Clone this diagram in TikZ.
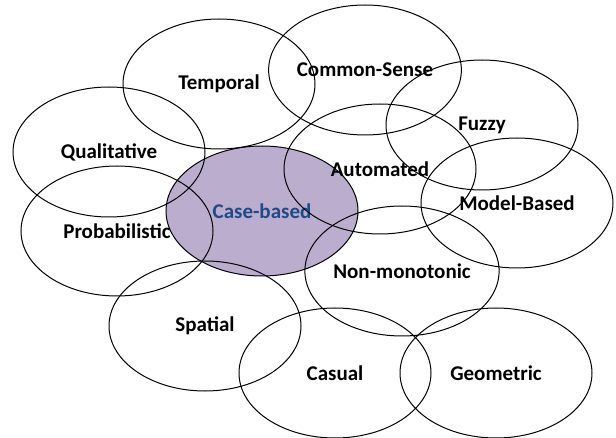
\documentclass[tikz,border=0pt]{standalone}
\usepackage{fontspec}
\setmainfont{Carlito}
\usetikzlibrary{shapes.geometric}
\definecolor{caselav}{RGB}{186,173,206}
\definecolor{casetext}{RGB}{30,75,135}

\begin{document}
\begin{tikzpicture}[x=1pt, y=-1pt, every node/.style={font=\fontsize{21}{25}\selectfont\bfseries}]
  % one style for every reasoning ellipse
  \tikzset{area/.style={draw, line width=1pt, ellipse, minimum width=192pt, minimum height=130pt, inner sep=0pt}}
  \useasboundingbox (0,0) rectangle (616,438);

  % the highlighted one first, so the other outlines cross it
  \node[area, fill=caselav, text=casetext] (casebased) at (262,211) {Case-based};

  % ellipses around it
  \node[area] (temporal) at (219,84) {Temporal};
  \node[area] (commonsense) at (365,70) {Common-Sense};
  \node[area] (fuzzy) at (482,125) {Fuzzy};
  \node[area] (qualitative) at (109,152) {Qualitative};
  \node[area] (automated) at (380,169) {Automated};
  \node[area] (modelbased) at (517,203) {Model-Based};
  \node[area] (probabilistic) at (117,231) {Probabilistic};
  \node[area] (nonmonotonic) at (402,271) {Non-monotonic};
  \node[area] (spatial) at (205,326) {Spatial};
  \node[area] (casual) at (335,373) {Casual};
  \node[area] (geometric) at (496,373) {Geometric};
\end{tikzpicture}
\end{document}
